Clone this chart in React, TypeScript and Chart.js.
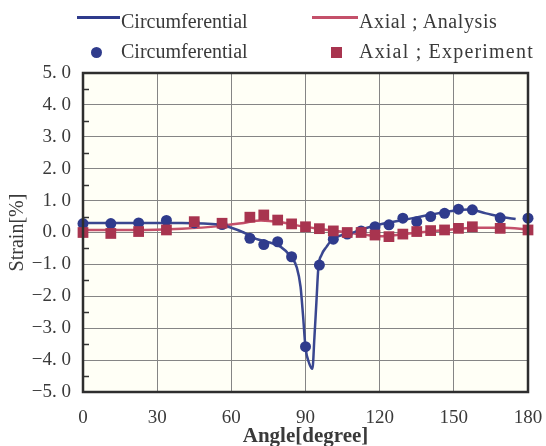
import React, { useEffect, useRef } from "react";
import { Chart, registerables } from "chart.js";

Chart.register(...registerables);

// ---- data ----
const expAngles = [0, 11.25, 22.5, 33.75, 45, 56.25, 67.5, 73.125, 78.75, 84.375, 90, 95.625, 101.25, 106.875, 112.5, 118.125, 123.75, 129.375, 135, 140.625, 146.25, 151.875, 157.5, 168.75, 180];
const circExp = [0.28, 0.28, 0.3, 0.38, 0.3, 0.25, -0.18, -0.38, -0.29, -0.76, -3.58, -1.02, -0.21, -0.05, 0.05, 0.18, 0.24, 0.45, 0.34, 0.5, 0.6, 0.73, 0.71, 0.46, 0.45];
const axialExp = [0.0, -0.03, 0.03, 0.08, 0.34, 0.29, 0.48, 0.55, 0.39, 0.27, 0.18, 0.12, 0.05, 0.0, 0.0, -0.08, -0.13, -0.05, 0.03, 0.06, 0.08, 0.13, 0.18, 0.13, 0.08];

const circAnaAngles = [0, 20, 40, 55, 60, 65, 70, 75, 80, 84, 86.5, 88, 89, 90, 91.5, 92.8, 93.6, 94.4, 95.2, 96.5, 98.5, 101, 105, 110, 115, 120, 130, 140, 150, 156, 163, 170, 175];
const circAna = [0.3, 0.3, 0.3, 0.25, 0.15, 0.0, -0.2, -0.3, -0.45, -0.75, -1.1, -1.7, -2.6, -3.6, -4.1, -4.27, -3.3, -2.2, -1.1, -0.7, -0.45, -0.2, -0.08, 0.02, 0.15, 0.25, 0.4, 0.55, 0.68, 0.72, 0.6, 0.48, 0.42];

const axialAnaAngles = [0, 20, 40, 55, 65, 72, 80, 88, 95, 105, 115, 120, 130, 140, 150, 160, 170, 180];
const axialAna = [0.08, 0.08, 0.12, 0.2, 0.3, 0.38, 0.32, 0.2, 0.12, 0.02, -0.08, -0.12, -0.05, 0.03, 0.1, 0.15, 0.15, 0.1];

const xTicks = [0, 30, 60, 90, 120, 150, 180];
const yTicks = [-5, -4, -3, -2, -1, 0, 1, 2, 3, 4, 5];

const BLUE = "#2f3b8c";
const RED = "#a8344f";
const RED_LINE = "#c4506a";
const TEXT = "#3a3a3a";
const FONT = "'Liberation Serif', 'DejaVu Serif', serif";

const pts = (xs: number[], ys: number[]) => xs.map((x, i) => ({ x, y: ys[i] }));

const framePlugin = {
  id: "frame",
  beforeDraw(chart: any) {
    const { ctx, chartArea: a } = chart;
    ctx.save();
    ctx.fillStyle = "#fffff6";
    ctx.fillRect(a.left, a.top, a.right - a.left, a.bottom - a.top);
    ctx.restore();
  },
  afterDraw(chart: any) {
    const { ctx, chartArea: a } = chart;
    const y = chart.scales.y;
    ctx.save();
    ctx.strokeStyle = "#333";
    ctx.lineWidth = 1.5;
    for (let v = -4.5; v < 5; v += 1) {
      const py = Math.round(y.getPixelForValue(v)) + 0.5;
      ctx.beginPath();
      ctx.moveTo(a.left, py);
      ctx.lineTo(a.left + 6, py);
      ctx.stroke();
    }
    ctx.lineWidth = 2.5;
    ctx.strokeStyle = "#2e2e2e";
    ctx.strokeRect(a.left, a.top, a.right - a.left, a.bottom - a.top);
    ctx.restore();
  },
};

function LegendRow() {
  const txt: React.CSSProperties = {
    position: "absolute",
    fontFamily: FONT,
    fontSize: 20,
    lineHeight: "20px",
    color: TEXT,
    whiteSpace: "nowrap",
  };
  return (
    <>
      <div style={{ position: "absolute", left: 77, top: 16, width: 43, height: 3, background: BLUE }} />
      <div style={{ ...txt, left: 121, top: 11 }}>Circumferential</div>
      <div style={{ position: "absolute", left: 312, top: 16, width: 46, height: 3, background: RED_LINE }} />
      <div style={{ ...txt, left: 359, top: 11, letterSpacing: 0.6 }}>Axial ; Analysis</div>
      <div style={{ position: "absolute", left: 91, top: 47, width: 11, height: 11, borderRadius: "50%", background: BLUE }} />
      <div style={{ ...txt, left: 121, top: 41 }}>Circumferential</div>
      <div style={{ position: "absolute", left: 331, top: 47, width: 11, height: 11, background: RED }} />
      <div style={{ ...txt, left: 359, top: 41, letterSpacing: 1.2 }}>Axial ; Experiment</div>
    </>
  );
}

export default function App() {
  const ref = useRef<HTMLCanvasElement | null>(null);
  useEffect(() => {
    document.body.style.margin = "0";
    document.body.style.background = "#ffffff";
    if (!ref.current) return;
    const chart = new Chart(ref.current, {
      type: "scatter",
      data: {
        datasets: [
          {
            label: "Axial ; Experiment",
            data: pts(expAngles, axialExp),
            pointStyle: "rect",
            pointRadius: 7.6,
            backgroundColor: RED,
            borderColor: RED,
            borderWidth: 0,
            order: 0,
            clip: false,
          } as any,
          {
            label: "Circumferential",
            data: pts(expAngles, circExp),
            pointStyle: "circle",
            pointRadius: 5.5,
            backgroundColor: BLUE,
            borderColor: BLUE,
            borderWidth: 0,
            order: 1,
            clip: false,
          } as any,
          {
            label: "Circumferential",
            data: pts(circAnaAngles, circAna),
            showLine: true,
            pointRadius: 0,
            borderColor: "#3a4790",
            borderWidth: 2.5,
            cubicInterpolationMode: "monotone",
            order: 2,
          } as any,
          {
            label: "Axial ; Analysis",
            data: pts(axialAnaAngles, axialAna),
            showLine: true,
            pointRadius: 0,
            borderColor: RED_LINE,
            borderWidth: 2.5,
            cubicInterpolationMode: "monotone",
            order: 3,
          } as any,
        ],
      },
      options: {
        animation: false,
        responsive: false,
        devicePixelRatio: 1,
        layout: { padding: { left: 0, right: 18, top: 73, bottom: 0 } },
        plugins: { legend: { display: false }, tooltip: { enabled: false } },
        scales: {
          x: {
            type: "linear",
            min: 0,
            max: 180,
            afterBuildTicks: (s: any) => {
              s.ticks = xTicks.map((v) => ({ value: v }));
            },
            afterFit: (s: any) => {
              s.height = 54;
              s.paddingLeft = 0;
              s.paddingRight = 0;
            },
            grid: { color: "#858585", lineWidth: 1, drawTicks: false },
            border: { display: false },
            ticks: {
              padding: 15,
              color: TEXT,
              font: { family: FONT, size: 19 },
              maxRotation: 0,
            },
            title: {
              display: true,
              text: "Angle[degree]",
              color: TEXT,
              font: { family: FONT, size: 21, weight: "bold" },
              padding: { top: 0, bottom: -3 },
            },
          },
          y: {
            type: "linear",
            min: -5,
            max: 5,
            afterBuildTicks: (s: any) => {
              s.ticks = yTicks.map((v) => ({ value: v }));
            },
            afterFit: (s: any) => {
              s.width = 83;
              s.paddingTop = 0;
              s.paddingBottom = 0;
            },
            grid: { color: "#858585", lineWidth: 1, drawTicks: false },
            border: { display: false },
            ticks: {
              padding: 12,
              color: TEXT,
              font: { family: FONT, size: 19 },
              callback: (v: any) => {
                const s = Math.abs(Number(v)).toFixed(1).replace(".", ". ");
                return Number(v) < 0 ? "\u2212" + s : s;
              },
            },
            title: {
              display: true,
              text: "Strain[%]",
              color: TEXT,
              font: { family: FONT, size: 20 },
              padding: { top: 6, bottom: 0 },
            },
          },
        },
      },
      plugins: [framePlugin],
    });
    return () => chart.destroy();
  }, []);
  return (
    <div style={{ position: "relative", width: 546, height: 446, background: "#fff" }}>
      <canvas ref={ref} width={546} height={446} style={{ position: "absolute", left: 0, top: 0 }} />
      <LegendRow />
    </div>
  );
}
